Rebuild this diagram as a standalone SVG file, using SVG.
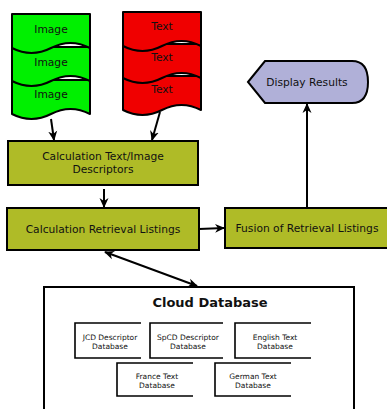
<svg xmlns="http://www.w3.org/2000/svg" width="387" height="409" viewBox="0 0 387 409">
<defs>
<style>
.doc{stroke:#000;stroke-width:2;stroke-linejoin:round}
.g{fill:#00f000}
.r{fill:#f00000}
.box{fill:#afbb27;stroke:#000;stroke-width:2}
.t{font-family:"DejaVu Sans",sans-serif;font-size:10.7px;fill:#111;text-anchor:middle}
.s{font-family:"DejaVu Sans",sans-serif;font-size:7.5px;fill:#111;text-anchor:middle}
.conn{stroke:#000;stroke-width:2;fill:none}
.sub{fill:none;stroke:#000;stroke-width:1.6}
</style>
<marker id="ah" viewBox="0 0 10 10" refX="9" refY="5" markerWidth="10" markerHeight="10" orient="auto-start-reverse" markerUnits="userSpaceOnUse">
<path d="M0,0.5 L10,5 L0,9.5 L3,5 z" fill="#000"/>
</marker>
<path id="docshape" d="M0,0 H78 V34 Q58.5,24 39,34 Q19.5,44 0,34 Z"/>
</defs>
<g id="image-docs">
<use href="#docshape" x="12" y="80" class="doc g"/>
<use href="#docshape" x="12" y="47" class="doc g"/>
<use href="#docshape" x="12" y="14" class="doc g"/>
<text class="t" x="51" y="33">Image</text>
<text class="t" x="51" y="66">Image</text>
<text class="t" x="51" y="98">Image</text>
</g>
<g id="text-docs">
<use href="#docshape" x="123" y="76" class="doc r"/>
<use href="#docshape" x="123" y="44" class="doc r"/>
<use href="#docshape" x="123" y="12" class="doc r"/>
<text class="t" x="162" y="30">Text</text>
<text class="t" x="162" y="61">Text</text>
<text class="t" x="162" y="93">Text</text>
</g>
<g id="display-results">
<path d="M248,82 L265,61 H352 Q368,61 368,82 Q368,103 352,103 H265 Z" fill="#b0b0d8" stroke="#000" stroke-width="2"/>
<text class="t" x="307" y="86">Display Results</text>
</g>
<g id="calc-descriptors">
<rect class="box" x="8" y="141" width="190" height="44"/>
<text class="t" x="103" y="160">Calculation Text/Image</text>
<text class="t" x="103" y="173">Descriptors</text>
</g>
<g id="calc-retrieval">
<rect class="box" x="7" y="208" width="192" height="42"/>
<text class="t" x="103" y="233">Calculation Retrieval Listings</text>
</g>
<g id="fusion">
<rect class="box" x="225" y="208" width="170" height="40"/>
<text class="t" x="307" y="232">Fusion of Retrieval Listings</text>
</g>
<g id="cloud-database">
<rect x="44" y="287" width="310" height="130" fill="#fff" stroke="#000" stroke-width="2"/>
<text x="210" y="307" font-family="DejaVu Sans,sans-serif" font-size="13" font-weight="bold" text-anchor="middle" fill="#111">Cloud Database</text>
<g id="jcd">
<path class="sub" d="M141,323 H75 V358 H141"/>
<text class="s" x="110" y="340">JCD Descriptor</text>
<text class="s" x="110" y="349">Database</text>
</g>
<g id="spcd">
<path class="sub" d="M223,323 H150 V358 H223"/>
<text class="s" x="188" y="340">SpCD Descriptor</text>
<text class="s" x="188" y="349">Database</text>
</g>
<g id="english">
<path class="sub" d="M311,323 H235 V358 H311"/>
<text class="s" x="275" y="340">English Text</text>
<text class="s" x="275" y="349">Database</text>
</g>
<g id="france">
<path class="sub" d="M193,363 H117 V396 H193"/>
<text class="s" x="157" y="379">France Text</text>
<text class="s" x="157" y="388">Database</text>
</g>
<g id="german">
<path class="sub" d="M291,363 H215 V396 H291"/>
<text class="s" x="253" y="379">German Text</text>
<text class="s" x="253" y="388">Database</text>
</g>
</g>
<g id="connectors">
<line class="conn" x1="51" y1="119" x2="54" y2="140" marker-end="url(#ah)"/>
<line class="conn" x1="160" y1="112" x2="152" y2="140" marker-end="url(#ah)"/>
<line class="conn" x1="104" y1="189" x2="104" y2="207" marker-end="url(#ah)"/>
<line class="conn" x1="199" y1="229" x2="224" y2="228" marker-end="url(#ah)"/>
<line class="conn" x1="307" y1="208" x2="307" y2="104" marker-end="url(#ah)"/>
<line class="conn" x1="105" y1="252" x2="197" y2="286" marker-start="url(#ah)" marker-end="url(#ah)"/>
</g>
</svg>
